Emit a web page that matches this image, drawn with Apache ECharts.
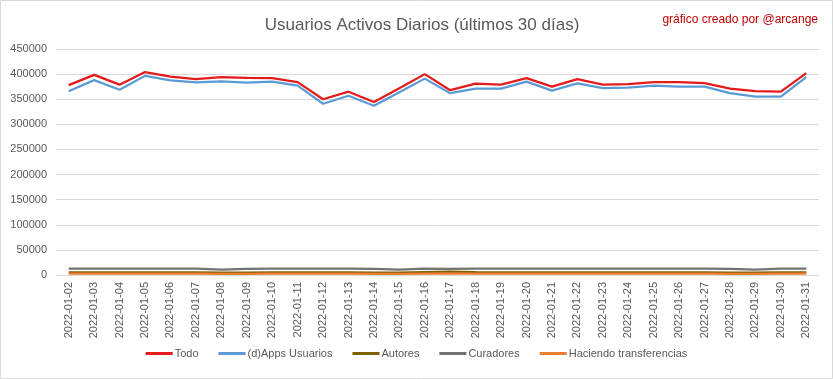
<!DOCTYPE html>
<html>
<head>
<meta charset="utf-8">
<script src="https://cdn.jsdelivr.net/npm/echarts@6/dist/echarts.min.js"></script>
<style>
html,body{margin:0;padding:0;background:#fff;}
#chart{width:833px;height:379px;}
</style>
</head>
<body>
<div id="chart"></div>
<script>
const categories = [
  '2022-01-02','2022-01-03','2022-01-04','2022-01-05','2022-01-06','2022-01-07','2022-01-08','2022-01-09','2022-01-10','2022-01-11',
  '2022-01-12','2022-01-13','2022-01-14','2022-01-15','2022-01-16','2022-01-17','2022-01-18','2022-01-19','2022-01-20','2022-01-21',
  '2022-01-22','2022-01-23','2022-01-24','2022-01-25','2022-01-26','2022-01-27','2022-01-28','2022-01-29','2022-01-30','2022-01-31'
];
const todo = [378000,398500,379000,404000,395000,390000,394000,392500,392000,384000,
  350000,365000,344500,372000,400000,368000,381000,379000,392000,375000,
  390000,379000,380000,384000,384000,382000,371000,366000,365000,402000];
const appsUsuarios = [366000,388000,369000,396500,387500,383500,385500,383000,385000,377000,
  341000,357000,337000,364000,391000,362000,371000,371000,385000,367000,
  381500,372000,373000,377000,375000,375000,362000,355000,355000,394000];
const autores = [5000,5000,5000,5000,5000,5000,4500,4500,5000,5000,
  5000,5000,4500,4500,5500,6500,5500,5000,5000,5000,
  5000,5000,5000,5000,5000,5000,4500,4500,5000,5000];
const curadores = [12500,12500,12500,12500,12500,12500,10500,12000,12500,12500,
  12500,12500,12000,10500,12500,12000,12500,12500,12500,12500,
  12500,12500,12500,12500,12500,12500,12000,10500,12500,12500];
const haciendo = [2500,2500,2500,2500,2500,2500,2000,2000,2500,2500,
  2500,2500,2000,2000,2500,3000,2500,2500,2500,2500,
  2500,2500,2500,2500,2500,2500,2000,2000,2500,2500];
const seriesNames = ['Todo','(d)Apps Usuarios','Autores','Curadores','Haciendo transferencias'];
const yTicks = {min:0, max:450000, interval:50000};

const colors = ['#e31b1b','#5b9bd5','#7f6000','#737373','#ed7d31'];
const dataSets = [todo, appsUsuarios, autores, curadores, haciendo];

const chart = echarts.init(document.getElementById('chart'), null, {renderer:'canvas'});
chart.setOption({
  animation:false,
  backgroundColor:'#fff',
  title:[{
    text:'Usuarios Activos Diarios (últimos 30 días)',
    left:417, top:12, textAlign:'center',
    textStyle:{fontFamily:'Liberation Sans, sans-serif', fontSize:17, fontWeight:'normal', color:'#595959'}
  },{
    text:'gráfico creado por @arcange',
    right:10, top:9,
    textStyle:{fontFamily:'Liberation Sans, sans-serif', fontSize:12, fontWeight:'normal', color:'#c00000'}
  }],
  graphic:[{type:'rect', shape:{x:0.5,y:0.5,width:832,height:378}, style:{fill:'none', stroke:'#d9d9d9', lineWidth:1}, silent:true}],
  legend:{
    data:seriesNames,
    bottom:15, left:'center',
    itemWidth:27, itemHeight:3, itemGap:20,
    icon:'rect',
    textStyle:{fontFamily:'Liberation Sans, sans-serif', fontSize:11, color:'#595959', padding:[0,0,0,-3]}
  },
  grid:{left:56, right:14, top:49, bottom:104, containLabel:false},
  xAxis:{
    type:'category', data:categories, boundaryGap:true,
    axisLine:{lineStyle:{color:'#d9d9d9'}},
    axisTick:{show:false},
    axisLabel:{rotate:90, interval:0, margin:7, fontFamily:'Liberation Sans, sans-serif', fontSize:11, color:'#595959'}
  },
  yAxis:{
    type:'value', min:yTicks.min, max:yTicks.max, interval:yTicks.interval,
    axisLine:{show:false}, axisTick:{show:false},
    splitLine:{lineStyle:{color:'#d9d9d9'}},
    axisLabel:{margin:9, fontFamily:'Liberation Sans, sans-serif', fontSize:11, color:'#595959', formatter:(v)=>String(v)}
  },
  series: seriesNames.map((n,i)=>({
    name:n, type:'line', data:dataSets[i], showSymbol:false, symbol:'none',
    lineStyle:{width:2.25, color:colors[i]}, itemStyle:{color:colors[i]}
  }))
});
</script>
</body>
</html>
